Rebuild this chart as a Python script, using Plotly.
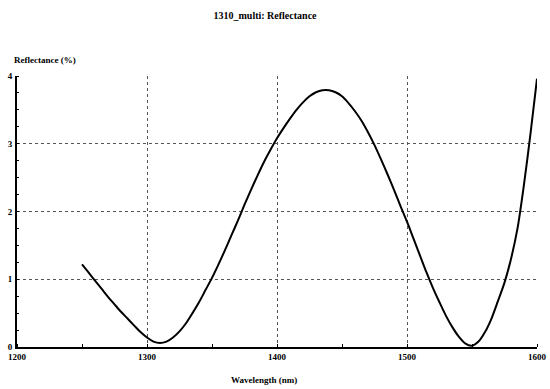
import plotly.graph_objects as go

wavelength = [1250, 1255, 1260, 1265, 1270, 1275, 1280, 1285, 1290, 1295,
              1300, 1305, 1310, 1315, 1320, 1325, 1330, 1335, 1340, 1345,
              1350, 1355, 1360, 1365, 1370, 1375, 1380, 1385, 1390, 1395,
              1400, 1405, 1410, 1415, 1420, 1425, 1430, 1435, 1440, 1445,
              1450, 1455, 1460, 1465, 1470, 1475, 1480, 1485, 1490, 1495,
              1500, 1505, 1510, 1515, 1520, 1525, 1530, 1535, 1540, 1545,
              1550, 1555, 1560, 1565, 1570, 1575, 1580, 1585, 1590, 1595, 1600]
reflectance = [1.22, 1.10, 0.98, 0.86, 0.74, 0.63, 0.52, 0.42, 0.32, 0.22,
               0.14, 0.08, 0.06, 0.08, 0.14, 0.23, 0.35, 0.50, 0.66, 0.84,
               1.02, 1.22, 1.43, 1.65, 1.87, 2.10, 2.32, 2.53, 2.73, 2.91,
               3.08, 3.23, 3.37, 3.50, 3.61, 3.70, 3.76, 3.79, 3.79, 3.76,
               3.70, 3.60, 3.48, 3.34, 3.17, 2.98, 2.77, 2.55, 2.32, 2.08,
               1.85, 1.60, 1.35, 1.10, 0.87, 0.66, 0.46, 0.29, 0.15, 0.05,
               0.02, 0.08, 0.22, 0.42, 0.68, 0.95, 1.30, 1.75, 2.40, 3.15, 3.96]

x_ticks = [1200, 1300, 1400, 1500, 1600]
y_ticks = [0, 1, 2, 3, 4]

serif = "Liberation Serif, Times New Roman, serif"
W, H = 550, 389
L, R, T, B = 17, 13, 76, 42
PW, PH = W - L - R, H - T - B

fig = go.Figure()
fig.add_trace(go.Scatter(x=wavelength, y=reflectance, mode="lines",
                         line=dict(color="black", width=2, shape="spline", smoothing=0.8),
                         showlegend=False, hoverinfo="skip"))

fig.update_layout(
    width=W, height=H,
    margin=dict(l=L, r=R, t=T, b=B, autoexpand=False),
    paper_bgcolor="white", plot_bgcolor="white",
    title=dict(text="1310_multi: Reflectance", x=265 / W, xanchor="center",
               y=1 - 15 / H, yanchor="middle",
               font=dict(family=serif, size=10, color="black", weight="bold")),
    font=dict(family=serif, color="black"),
)
fig.update_xaxes(
    range=[1200, 1600], tickvals=x_ticks, ticktext=[str(v) for v in x_ticks],
    showgrid=True, gridcolor="#555555", griddash="dot", gridwidth=1,
    showline=True, linecolor="black", linewidth=2, mirror=False,
    ticks="", zeroline=False, automargin=False,
    tickfont=dict(family=serif, size=9, color="black", weight="bold"),
    minor=dict(dtick=50, tick0=1200, ticks="inside", ticklen=3, tickcolor="black", showgrid=False),
)
fig.update_yaxes(
    range=[0, 4], tickvals=y_ticks,
    showgrid=True, gridcolor="#555555", griddash="dot", gridwidth=1,
    showline=True, linecolor="black", linewidth=2,
    ticks="", zeroline=False, automargin=False, ticklabelstandoff=1,
    tickfont=dict(family=serif, size=9, color="black", weight="bold"),
    minor=dict(dtick=0.25, ticks="inside", ticklen=2, tickcolor="black", showgrid=False),
)
fig.add_annotation(text="Reflectance (%)", xref="paper", yref="paper",
                   x=-5 / PW, y=1 + 16 / PH, xanchor="left", yanchor="middle",
                   showarrow=False,
                   font=dict(family=serif, size=9, color="black", weight="bold"))
fig.add_annotation(text="Wavelength (nm)", xref="paper", yref="paper",
                   x=(264 - L) / PW, y=-33 / PH, xanchor="center", yanchor="middle",
                   showarrow=False,
                   font=dict(family=serif, size=9, color="black", weight="bold"))

fig.write_html("out.html", config={"displayModeBar": False},
               post_script="document.body.style.margin='0';document.body.style.overflow='hidden';")
